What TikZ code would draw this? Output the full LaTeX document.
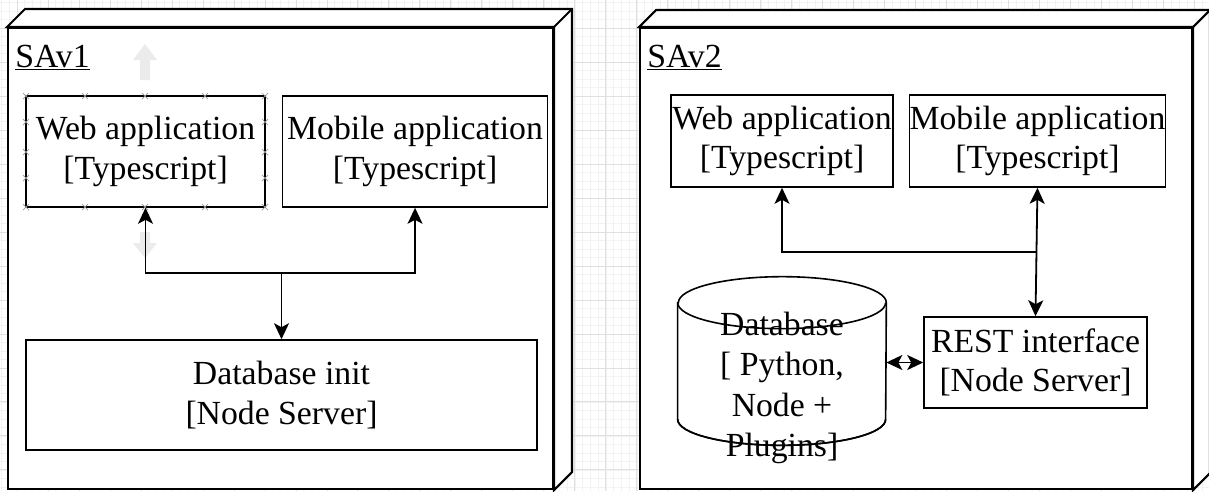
\documentclass[tikz,border=0pt]{standalone}
\usepackage{fontspec}
\setmainfont{Liberation Serif}
\usetikzlibrary{positioning,arrows.meta}
\definecolor{gridminor}{rgb}{0.95,0.95,0.95}
\definecolor{gridmajor}{rgb}{0.88,0.88,0.88}
\definecolor{ghost}{rgb}{0.92,0.92,0.92}
\definecolor{handle}{rgb}{0.6,0.6,0.6}

\begin{document}
\begin{tikzpicture} [
	x=0.02cm, y=-0.02cm,
	every node/.style = {
		font=\fontsize{19.2pt}{22.6pt}\selectfont,
		align=center,
		inner sep=0pt
	},
	appbox/.style = {draw=black, line width=0.032cm, fill=white},
	nodebox/.style = {draw=black, line width=0.042cm, fill=white},
	conn/.style = {draw, line width=0.036cm, -{Stealth[length=0.32cm, width=0.3cm, inset=0.08cm]}},
	dconn/.style = {draw, line width=0.036cm, {Stealth[length=0.32cm, width=0.3cm, inset=0.08cm]}-{Stealth[length=0.32cm, width=0.3cm, inset=0.08cm]}}
]

\useasboundingbox (0,0) rectangle (1209,491);
\fill[white] (0,0) rectangle (1209,491);
\begin{scope}[shift={(17,28)}]
\draw[gridminor, line width=0.4pt, xstep=0.155cm, ystep=0.17cm] (-17,-28) grid (1192,463);
\draw[gridmajor, line width=0.5pt, xstep=0.62cm, ystep=0.68cm] (-17,-28) grid (1192,463);
\end{scope}

\node (sav1box) [nodebox, minimum width=10.9cm, minimum height=9.22cm] at (280.5,258.5) {};
\filldraw[nodebox] (sav1box.north west) -- ++(18,-18) -- ([shift={(18,-18)}]sav1box.north east)
	-- ([shift={(18,-18)}]sav1box.south east) -- (sav1box.south east) -- (sav1box.north east) -- cycle;
\draw[nodebox] (sav1box.north east) -- ++(18,-18);
\node (sav1) [anchor=base west] at (15,67) {\underline{SAv1}};

\node (sav2box) [nodebox, minimum width=11.04cm, minimum height=9.22cm] at (916,258.5) {};
\filldraw[nodebox] (sav2box.north west) -- ++(17,-17) -- ([shift={(17,-17)}]sav2box.north east)
	-- ([shift={(17,-17)}]sav2box.south east) -- (sav2box.south east) -- (sav2box.north east) -- cycle;
\draw[nodebox] (sav2box.north east) -- ++(17,-17);
\node (sav2) [anchor=base west] at (647,67) {\underline{SAv2}};

\fill[ghost] (140,80) -- (140,60) -- (133,60) -- (145,44) -- (157,60) -- (150,60) -- (150,80) -- cycle;
\fill[ghost] (140,232) -- (140,243) -- (133,243) -- (145,258) -- (157,243) -- (150,243) -- (150,232) -- cycle;

\node (web1) [appbox, minimum width=4.78cm, minimum height=2.22cm] at (145.5,151.5) {Web application\\{[}Typescript]};
\node (mob1) [appbox, minimum width=5.3cm, minimum height=2.22cm, right=0.32cm of web1] {Mobile application\\{[}Typescript]};
\node (init) [appbox, minimum width=10.22cm, minimum height=2.2cm] at (281.5,395) {Database init\\{[}Node Server]};

\foreach \cx in {26,85,145,205,265} {
	\draw[handle, line width=0.4pt] (\cx,96) +(-3,-3) -- +(3,3) +(-3,3) -- +(3,-3);
	\draw[handle, line width=0.4pt] (\cx,207) +(-3,-3) -- +(3,3) +(-3,3) -- +(3,-3);
}
\foreach \cy in {122,152,178} {
	\draw[handle, line width=0.4pt] (26,\cy) +(-3,-3) -- +(3,3) +(-3,3) -- +(3,-3);
	\draw[handle, line width=0.4pt] (265,\cy) +(-3,-3) -- +(3,3) +(-3,3) -- +(3,-3);
}

\coordinate (j1) at (init.north |- 0,273);
\draw[conn] (j1) -| (web1.south);
\draw[conn] (j1) -| (mob1.south);
\draw[conn] (j1) -- (init.north);

\node (web2) [appbox, minimum width=4.44cm, minimum height=1.84cm] at (782,141) {Web application\\{[}Typescript]};
\node (mob2) [appbox, minimum width=5.1cm, minimum height=1.84cm, right=0.3cm of web2] {Mobile application\\{[}Typescript]};
\node (rest) [appbox, minimum width=4.46cm, minimum height=1.82cm] at (1035.5,362.5) {REST interface\\{[}Node Server]};

\node (db) [minimum width=4.16cm, minimum height=3.36cm] at (782,361) {};
\filldraw[appbox] ([yshift=-0.52cm]db.north west) -- ([yshift=0.52cm]db.south west)
	arc[start angle=180, end angle=360, x radius=2.08cm, y radius=0.52cm]
	-- ([yshift=-0.52cm]db.north east)
	arc[start angle=0, end angle=180, x radius=2.08cm, y radius=0.52cm] -- cycle;
\node (dbtext) [font=\fontsize{19.2pt}{23pt}\selectfont] at ([yshift=-0.54cm]db.center) {Database\\{[} Python,\\Node +\\Plugins]};
\draw[line width=0.032cm] ([yshift=-0.52cm]db.north west) arc[start angle=180, end angle=360, x radius=2.08cm, y radius=0.52cm];
\draw[line width=0.032cm] ([yshift=0.52cm]db.south west) arc[start angle=180, end angle=360, x radius=2.08cm, y radius=0.52cm];

\draw[dconn] (mob2.south) -- (rest.north);
\coordinate (j2) at (rest.north |- 0,252);
\draw[conn] (j2) -| (web2.south);
\draw[dconn] (db.east |- rest.west) -- (rest.west);

\end{tikzpicture}
\end{document}
